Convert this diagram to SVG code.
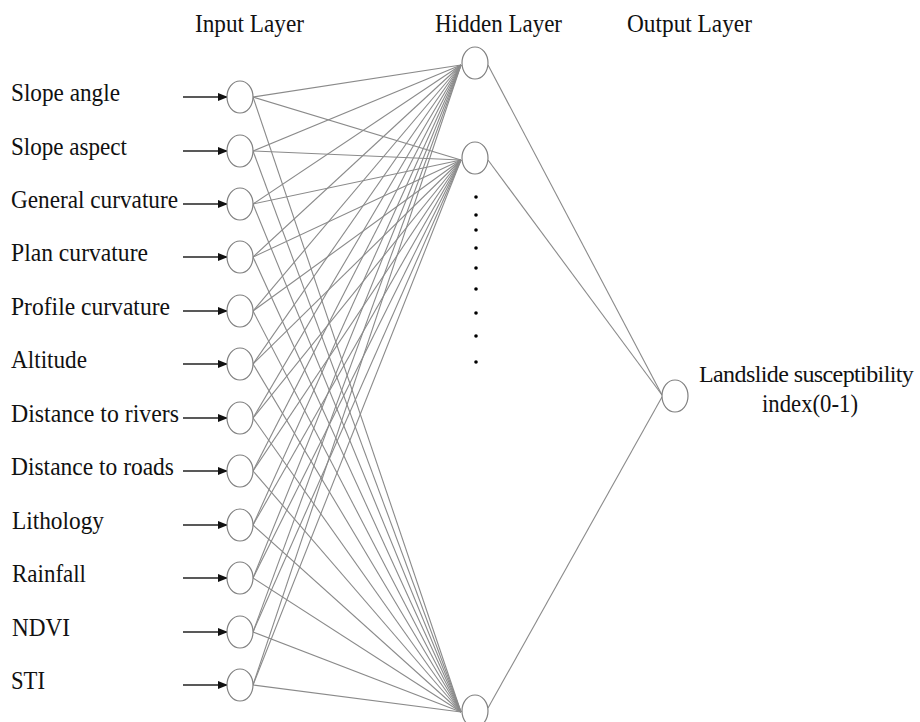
<svg xmlns="http://www.w3.org/2000/svg" width="920" height="722" viewBox="0 0 920 722">
<style>
text{font-family:"Liberation Serif","Times New Roman",serif;font-size:25.5px;fill:#111}
.nd{fill:#fff;stroke:#808080;stroke-width:1.2}
.w{stroke:#8a8a8a;stroke-width:1.1;fill:none}
.ar{stroke:#222;stroke-width:1.4;fill:none}
.dot{fill:#000}
</style>
<defs>
<marker id="ah" markerUnits="userSpaceOnUse" markerWidth="10" markerHeight="8" refX="9" refY="4" orient="auto">
<path d="M0,0 L10,4 L0,8 Z" fill="#111"/>
</marker>
</defs>
<rect width="920" height="722" fill="#fff"/>
<g id="headers">
<text x="195" y="32" textLength="109" lengthAdjust="spacingAndGlyphs">Input Layer</text>
<text x="435" y="32" textLength="127" lengthAdjust="spacingAndGlyphs">Hidden Layer</text>
<text x="627" y="32" textLength="125" lengthAdjust="spacingAndGlyphs">Output Layer</text>
</g>
<g id="connectors">
<g class="w">
<line x1="253" y1="97" x2="461" y2="65"/><line x1="253" y1="97" x2="461" y2="160"/><line x1="253" y1="97" x2="461" y2="712"/>
<line x1="253" y1="151" x2="461" y2="65"/><line x1="253" y1="151" x2="461" y2="160"/><line x1="253" y1="151" x2="461" y2="712"/>
<line x1="253" y1="204" x2="461" y2="65"/><line x1="253" y1="204" x2="461" y2="160"/><line x1="253" y1="204" x2="461" y2="712"/>
<line x1="253" y1="257" x2="461" y2="65"/><line x1="253" y1="257" x2="461" y2="160"/><line x1="253" y1="257" x2="461" y2="712"/>
<line x1="253" y1="311" x2="461" y2="65"/><line x1="253" y1="311" x2="461" y2="160"/><line x1="253" y1="311" x2="461" y2="712"/>
<line x1="253" y1="364" x2="461" y2="65"/><line x1="253" y1="364" x2="461" y2="160"/><line x1="253" y1="364" x2="461" y2="712"/>
<line x1="253" y1="418" x2="461" y2="65"/><line x1="253" y1="418" x2="461" y2="160"/><line x1="253" y1="418" x2="461" y2="712"/>
<line x1="253" y1="471" x2="461" y2="65"/><line x1="253" y1="471" x2="461" y2="160"/><line x1="253" y1="471" x2="461" y2="712"/>
<line x1="253" y1="525" x2="461" y2="65"/><line x1="253" y1="525" x2="461" y2="160"/><line x1="253" y1="525" x2="461" y2="712"/>
<line x1="253" y1="578" x2="461" y2="65"/><line x1="253" y1="578" x2="461" y2="160"/><line x1="253" y1="578" x2="461" y2="712"/>
<line x1="253" y1="632" x2="461" y2="65"/><line x1="253" y1="632" x2="461" y2="160"/><line x1="253" y1="632" x2="461" y2="712"/>
<line x1="253" y1="685" x2="461" y2="65"/><line x1="253" y1="685" x2="461" y2="160"/><line x1="253" y1="685" x2="461" y2="712"/>
<line x1="488" y1="65" x2="662" y2="395"/><line x1="488" y1="160" x2="662" y2="395"/><line x1="488" y1="708" x2="662" y2="397"/>
</g>
<g class="ar" marker-end="url(#ah)">
<line x1="183" y1="97" x2="227" y2="97"/><line x1="183" y1="151" x2="227" y2="151"/><line x1="183" y1="204" x2="227" y2="204"/>
<line x1="183" y1="257" x2="227" y2="257"/><line x1="183" y1="311" x2="227" y2="311"/><line x1="183" y1="364" x2="227" y2="364"/>
<line x1="183" y1="418" x2="227" y2="418"/><line x1="183" y1="471" x2="227" y2="471"/><line x1="183" y1="525" x2="227" y2="525"/>
<line x1="183" y1="578" x2="227" y2="578"/><line x1="183" y1="632" x2="227" y2="632"/><line x1="183" y1="685" x2="227" y2="685"/>
</g>
</g>
<g id="in1"><ellipse class="nd" cx="240" cy="97" rx="13" ry="16"/><text x="11" y="101" textLength="109" lengthAdjust="spacingAndGlyphs">Slope angle</text></g>
<g id="in2"><ellipse class="nd" cx="240" cy="151" rx="13" ry="16"/><text x="11" y="155" textLength="116" lengthAdjust="spacingAndGlyphs">Slope aspect</text></g>
<g id="in3"><ellipse class="nd" cx="240" cy="204" rx="13" ry="16"/><text x="11" y="208" textLength="167" lengthAdjust="spacingAndGlyphs">General curvature</text></g>
<g id="in4"><ellipse class="nd" cx="240" cy="257" rx="13" ry="16"/><text x="11" y="261" textLength="137" lengthAdjust="spacingAndGlyphs">Plan curvature</text></g>
<g id="in5"><ellipse class="nd" cx="240" cy="311" rx="13" ry="16"/><text x="11" y="315" textLength="159" lengthAdjust="spacingAndGlyphs">Profile curvature</text></g>
<g id="in6"><ellipse class="nd" cx="240" cy="364" rx="13" ry="16"/><text x="11" y="368" textLength="76" lengthAdjust="spacingAndGlyphs">Altitude</text></g>
<g id="in7"><ellipse class="nd" cx="240" cy="418" rx="13" ry="16"/><text x="11" y="422" textLength="168" lengthAdjust="spacingAndGlyphs">Distance to rivers</text></g>
<g id="in8"><ellipse class="nd" cx="240" cy="471" rx="13" ry="16"/><text x="11" y="475" textLength="163" lengthAdjust="spacingAndGlyphs">Distance to roads</text></g>
<g id="in9"><ellipse class="nd" cx="240" cy="525" rx="13" ry="16"/><text x="12" y="529" textLength="92" lengthAdjust="spacingAndGlyphs">Lithology</text></g>
<g id="in10"><ellipse class="nd" cx="240" cy="578" rx="13" ry="16"/><text x="12" y="582" textLength="74" lengthAdjust="spacingAndGlyphs">Rainfall</text></g>
<g id="in11"><ellipse class="nd" cx="240" cy="632" rx="13" ry="16"/><text x="12" y="636" textLength="58" lengthAdjust="spacingAndGlyphs">NDVI</text></g>
<g id="in12"><ellipse class="nd" cx="240" cy="685" rx="13" ry="16"/><text x="11" y="689" textLength="34" lengthAdjust="spacingAndGlyphs">STI</text></g>
<g id="h1"><ellipse class="nd" cx="475" cy="63" rx="13" ry="16"/></g>
<g id="h2"><ellipse class="nd" cx="475" cy="158" rx="13" ry="16"/></g>
<g id="h3"><ellipse class="nd" cx="475" cy="711" rx="13" ry="16"/></g>
<g id="dots">
<circle class="dot" cx="476" cy="197" r="1.8"/><circle class="dot" cx="476" cy="215" r="1.8"/><circle class="dot" cx="476" cy="230" r="1.8"/>
<circle class="dot" cx="476" cy="248" r="1.8"/><circle class="dot" cx="476" cy="268" r="1.8"/><circle class="dot" cx="476" cy="289" r="1.8"/>
<circle class="dot" cx="476" cy="313" r="1.8"/><circle class="dot" cx="476" cy="336" r="1.8"/><circle class="dot" cx="476" cy="362" r="1.8"/>
</g>
<g id="out"><ellipse class="nd" cx="675" cy="396" rx="13" ry="16"/>
<text x="699" y="382" style="font-size:24px;letter-spacing:-0.6px">Landslide susceptibility</text>
<text x="762" y="412" textLength="96" lengthAdjust="spacingAndGlyphs">index(0-1)</text>
</g>
</svg>
